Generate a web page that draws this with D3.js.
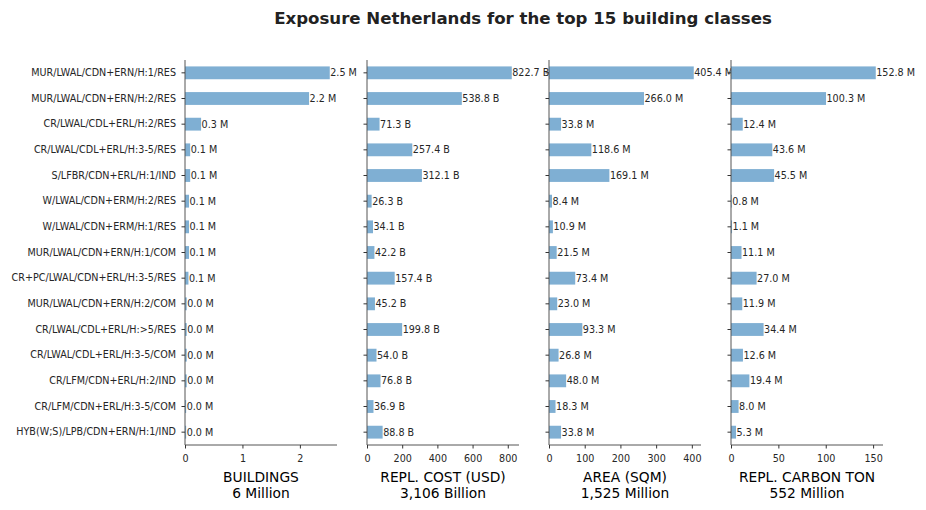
<!DOCTYPE html>
<html><head><meta charset="utf-8">
<script src="https://cdn.jsdelivr.net/npm/d3@7"></script>
<style>body{margin:0;background:#fff}svg{display:block}text{font-family:"DejaVu Sans",sans-serif}</style>
</head><body><svg id="c" width="926" height="510"></svg>
<script>
const categories = ["MUR/LWAL/CDN+ERN/H:1/RES","MUR/LWAL/CDN+ERN/H:2/RES","CR/LWAL/CDL+ERL/H:2/RES","CR/LWAL/CDL+ERL/H:3-5/RES","S/LFBR/CDN+ERL/H:1/IND","W/LWAL/CDN+ERM/H:2/RES","W/LWAL/CDN+ERM/H:1/RES","MUR/LWAL/CDN+ERN/H:1/COM","CR+PC/LWAL/CDN+ERL/H:3-5/RES","MUR/LWAL/CDN+ERN/H:2/COM","CR/LWAL/CDL+ERL/H:>5/RES","CR/LWAL/CDL+ERL/H:3-5/COM","CR/LFM/CDN+ERL/H:2/IND","CR/LFM/CDN+ERL/H:3-5/COM","HYB(W;S)/LPB/CDN+ERN/H:1/IND"];
const buildings = [2.52,2.16,0.28,0.09,0.09,0.07,0.07,0.07,0.06,0.03,0.03,0.03,0.03,0.02,0.02];
const replCost = [822.7,538.8,71.3,257.4,312.1,26.3,34.1,42.2,157.4,45.2,199.8,54.0,76.8,36.9,88.8];
const area = [405.4,266.0,33.8,118.6,169.1,8.4,10.9,21.5,73.4,23.0,93.3,26.8,48.0,18.3,33.8];
const carbon = [152.8,100.3,12.4,43.6,45.5,0.8,1.1,11.1,27.0,11.9,34.4,12.6,19.4,8.0,5.3];
const panelTitles = ["BUILDINGS","REPL. COST (USD)","AREA (SQM)","REPL. CARBON TON"];
const panelTotals = ["6 Million","3,106 Billion","1,525 Million","552 Million"];
const unitSuffix = [" M"," B"," M"," M"];
const tickValues = [[0,1,2],[0,200,400,600,800],[0,100,200,300,400],[0,50,100,150]];
const chartTitle = "Exposure Netherlands for the top 15 building classes";

const series = [buildings, replCost, area, carbon];
const svg = d3.select("#c");
const left0 = [185,367,549,731], pw = 152, plotTop = 60, plotBottom = 445;
const barColor = "#7fafd3", spine = "#555", txt = "#262626";

svg.append("text").attr("x",523).attr("y",24).attr("text-anchor","middle")
  .attr("font-weight","bold").attr("font-size",16.6).attr("fill","#222").text(chartTitle);

const y = d3.scaleBand().domain(categories).range([plotTop,plotBottom]).paddingInner(0.5).paddingOuter(0.25);
const fmt = d3.format(".1f");

series.forEach((vals,p)=>{
  const x0 = left0[p];
  const x = d3.scaleLinear().domain([0,d3.max(vals)*1.05]).range([x0,x0+pw]);
  const g = svg.append("g");
  g.selectAll("rect.b").data(vals).join("rect")
    .attr("x",x(0)).attr("y",(d,i)=>y(categories[i]))
    .attr("width",d=>x(d)-x(0)).attr("height",y.bandwidth()).attr("fill",barColor);
  g.selectAll("text.v").data(vals).join("text")
    .attr("x",d=>x(d)+0.5).attr("y",(d,i)=>y(categories[i])+y.bandwidth()/2)
    .attr("dy","0.35em").attr("font-size",9.6).attr("fill",txt)
    .text(d=>fmt(d)+unitSuffix[p]);
  const ya = d3.axisLeft(y).tickSize(3.5).tickPadding(5.5);
  if(p>0) ya.tickFormat("");
  const yg = g.append("g").attr("transform",`translate(${x0},0)`).call(ya);
  yg.select(".domain").attr("stroke",spine).attr("d",`M0,${plotTop}V${plotBottom}`);
  yg.selectAll(".tick line").attr("stroke","#333");
  yg.selectAll(".tick text").attr("font-size",9.6).attr("fill",txt).attr("font-family","DejaVu Sans");
  const xa = d3.axisBottom(x).tickValues(tickValues[p]).tickSize(3.5).tickPadding(7).tickFormat(d3.format("d"));
  const xg = g.append("g").attr("transform",`translate(0,${plotBottom})`).call(xa);
  xg.select(".domain").attr("stroke",spine).attr("d",`M${x0},0H${x0+pw}`);
  xg.selectAll(".tick line").attr("stroke","#333");
  xg.selectAll(".tick text").attr("font-size",9.6).attr("fill",txt).attr("font-family","DejaVu Sans");
  const cx = x0+pw/2;
  g.append("text").attr("x",cx).attr("y",482).attr("text-anchor","middle").attr("font-size",13.8).attr("fill","#000").text(panelTitles[p]);
  g.append("text").attr("x",cx).attr("y",498).attr("text-anchor","middle").attr("font-size",13.8).attr("fill","#000").text(panelTotals[p]);
});
</script></body></html>
